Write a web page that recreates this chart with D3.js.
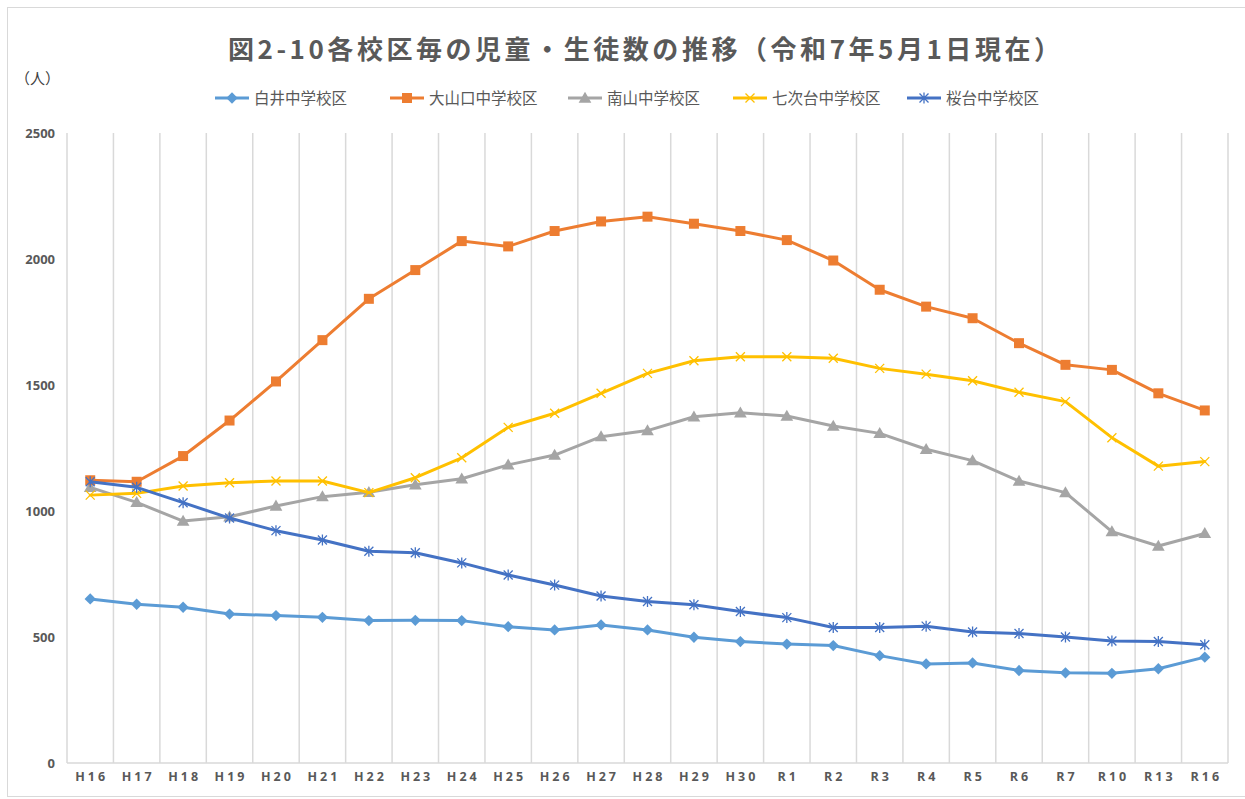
<!DOCTYPE html>
<html>
<head>
<meta charset="utf-8">
<script src="https://cdn.jsdelivr.net/npm/d3@7"></script>
<style>
  html, body { margin: 0; padding: 0; background: #fff; }
  svg { display: block; }
</style>
</head>
<body>
<svg id="chart" width="1245" height="799"></svg>
<script>
// ---------- DATA ----------
const categories = ["H16","H17","H18","H19","H20","H21","H22","H23","H24","H25","H26","H27","H28","H29","H30","R1","R2","R3","R4","R5","R6","R7","R10","R13","R16"];
const seriesNames = ["白井中学校区","大山口中学校区","南山中学校区","七次台中学校区","桜台中学校区"];
const shiraiValues   = [651,630,618,591,585,578,565,566,565,541,528,548,528,499,482,472,466,426,393,397,367,358,356,374,420];
const oyamaguchiValues = [1122,1116,1218,1359,1514,1678,1842,1956,2071,2050,2111,2149,2168,2140,2111,2075,1994,1878,1811,1765,1666,1580,1560,1467,1399];
const minamiyamaValues = [1094,1034,960,977,1020,1057,1074,1104,1128,1183,1222,1295,1319,1374,1390,1377,1337,1308,1245,1200,1119,1073,918,861,911];
const nanatsuguValues = [1063,1070,1099,1112,1119,1119,1073,1132,1211,1332,1388,1467,1546,1596,1612,1612,1606,1566,1543,1517,1471,1434,1291,1178,1196];
const sakuradaiValues = [1116,1094,1033,972,922,885,840,834,794,746,706,663,641,628,601,577,538,538,543,520,514,500,484,482,469];
const yTicks = [0,500,1000,1500,2000,2500];
const titleText = "図2-10各校区毎の児童・生徒数の推移（令和7年5月1日現在）";
const unitLabel = "（人）";

// ---------- SETUP ----------
const svg = d3.select("#chart");
const colors = ["#5B9BD5","#ED7D31","#A5A5A5","#FFC000","#4472C4"];
const markers = ["diamond","square","triangle","x","asterisk"];
const allValues = [shiraiValues, oyamaguchiValues, minamiyamaValues, nanatsuguValues, sakuradaiValues];
const series = seriesNames.map((name, i) => ({ name, values: allValues[i], color: colors[i], marker: markers[i] }));

const plot = { left: 67, right: 1228, top: 133, bottom: 763 };
const x = d3.scaleBand().domain(categories).range([plot.left, plot.right]).padding(0);
const xc = c => x(c) + x.bandwidth() / 2;
const y = d3.scaleLinear().domain([0, 2500]).range([plot.bottom, plot.top]);

// outer border
svg.append("rect").attr("x", 7.5).attr("y", 7.5).attr("width", 1250).attr("height", 789)
  .attr("fill", "none").attr("stroke", "#d9d9d9").attr("stroke-width", 1);

// title
svg.append("text").attr("x", 644).attr("y", 59)
  .attr("text-anchor", "middle")
  .attr("textLength", 832).attr("lengthAdjust", "spacing")
  .style("font-family", "'Noto Sans CJK JP', sans-serif").style("font-weight", "bold")
  .style("font-size", "26px").attr("fill", "#595959")
  .text(titleText);

// unit
svg.append("text").attr("x", 15).attr("y", 84)
  .style("font-family", "'Noto Sans CJK JP', sans-serif").style("font-size", "15px")
  .attr("fill", "#404040").text(unitLabel);

// vertical gridlines at band boundaries
const bounds = categories.map(c => x(c)).concat([plot.right]);
svg.append("g").selectAll("line").data(bounds).join("line")
  .attr("x1", d => d).attr("x2", d => d)
  .attr("y1", plot.top).attr("y2", plot.bottom)
  .attr("stroke", "#d9d9d9").attr("stroke-width", 1.5);

// x axis baseline
svg.append("line").attr("x1", plot.left).attr("x2", plot.right)
  .attr("y1", plot.bottom).attr("y2", plot.bottom)
  .attr("stroke", "#d9d9d9").attr("stroke-width", 1.5);

// y axis labels
const yAxis = d3.axisLeft(y).tickValues(yTicks).tickSize(0).tickPadding(0).tickFormat(d3.format("d"));
const yg = svg.append("g").attr("transform", `translate(${plot.left - 12},0)`).call(yAxis);
yg.select(".domain").remove();
yg.selectAll("text").style("font-family", "'Open Sans', sans-serif").style("font-weight", "bold")
  .style("font-size", "13px").attr("fill", "#595959").attr("dy", "0.35em");

// x axis labels
const xAxis = d3.axisBottom(x).tickSize(0).tickPadding(0);
const xg = svg.append("g").attr("transform", `translate(1.5,${plot.bottom + 9})`).call(xAxis);
xg.select(".domain").remove();
xg.selectAll("text").style("font-family", "'Open Sans', sans-serif").style("font-weight", "bold")
  .style("font-size", "12.5px").style("letter-spacing", "3px").attr("fill", "#595959").attr("dy", "0.71em");

// markers
function drawMarker(g, type, color, cx, cy) {
  if (type === "diamond") {
    g.append("path").attr("d", d3.symbol(d3.symbolSquare, 64)()).attr("transform", `translate(${cx},${cy}) rotate(45)`).attr("fill", color);
  } else if (type === "square") {
    g.append("path").attr("d", d3.symbol(d3.symbolSquare, 100)()).attr("transform", `translate(${cx},${cy})`).attr("fill", color);
  } else if (type === "triangle") {
    g.append("path").attr("d", d3.symbol(d3.symbolTriangle, 70)()).attr("transform", `translate(${cx},${cy + 1})`).attr("fill", color);
  } else if (type === "x") {
    const r = 4.5;
    g.append("path").attr("d", `M${cx-r},${cy-r}L${cx+r},${cy+r}M${cx-r},${cy+r}L${cx+r},${cy-r}`)
      .attr("stroke", color).attr("stroke-width", 1.3).attr("fill", "none");
  } else if (type === "asterisk") {
    const r = 4.5;
    g.append("path").attr("d", `M${cx-r},${cy-r}L${cx+r},${cy+r}M${cx-r},${cy+r}L${cx+r},${cy-r}M${cx},${cy-r-1}L${cx},${cy+r+1}`)
      .attr("stroke", color).attr("stroke-width", 1.3).attr("fill", "none");
  }
}

// series lines
const line = d3.line().x((d, i) => xc(categories[i])).y(d => y(d));
const order = [2, 3, 0, 1, 4];
order.forEach(si => {
  const s = series[si];
  const g = svg.append("g");
  g.append("path").datum(s.values).attr("d", line)
    .attr("fill", "none").attr("stroke", s.color).attr("stroke-width", 3)
    .attr("stroke-linejoin", "round").attr("stroke-linecap", "round");
  s.values.forEach((v, i) => drawMarker(g, s.marker, s.color, xc(categories[i]), y(v)));
});

// legend
const legendLineX = [215, 390, 568, 733, 907];
const legendY = 98;
series.forEach((s, i) => {
  const g = svg.append("g");
  const lx = legendLineX[i];
  g.append("line").attr("x1", lx).attr("x2", lx + 34).attr("y1", legendY).attr("y2", legendY)
    .attr("stroke", s.color).attr("stroke-width", 3);
  drawMarker(g, s.marker, s.color, lx + 17, legendY);
  g.append("text").attr("x", lx + 39).attr("y", legendY).attr("dy", "0.36em")
    .style("font-family", "'Noto Sans CJK JP', sans-serif").style("font-size", "15.5px")
    .attr("fill", "#595959").text(s.name);
});
</script>
</body>
</html>
